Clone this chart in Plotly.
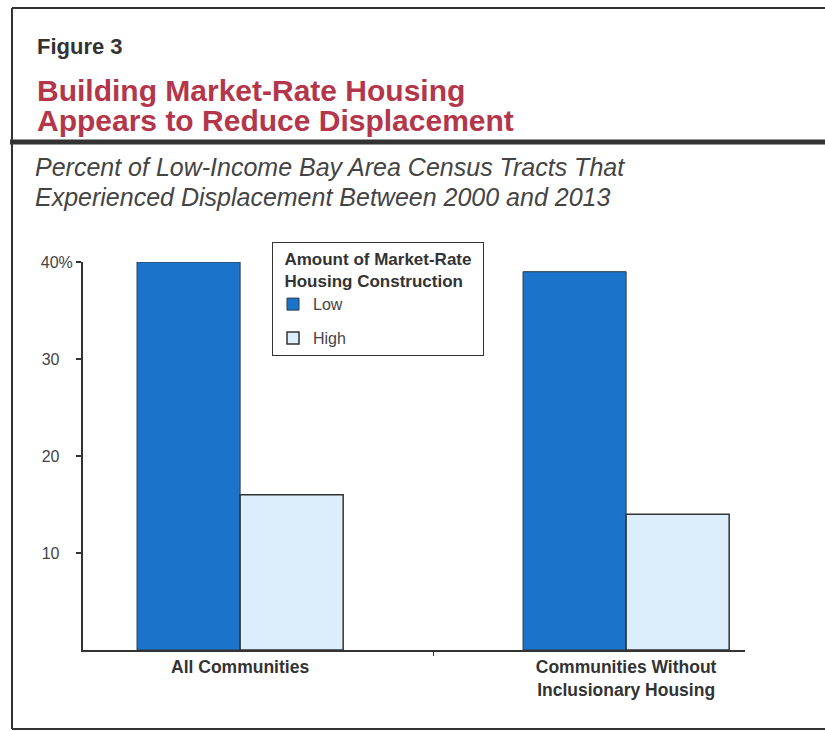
import plotly.graph_objects as go

# Data: percent of low-income Bay Area census tracts that experienced displacement
categories = ["All Communities", "Communities Without<br>Inclusionary Housing"]
series_names = ["Low", "High"]
low_values = [40, 39]
high_values = [16, 14]
y_tick_values = [10, 20, 30, 40]
y_tick_labels = ["10", "20", "30", "40%"]

W, H = 825, 731
PLOT_L, PLOT_R, PLOT_T, PLOT_B = 83, 745, 262, 650

FONT = "Liberation Sans, Arial, Helvetica, sans-serif"
DARK = "#333333"
RED = "#b3364a"
BLUE = "#1b74c9"
LIGHT = "#dcedfb"


def px(x):
    """Pixel x -> paper x."""
    return (x - PLOT_L) / (PLOT_R - PLOT_L)


def py(y):
    """Pixel y (from top) -> paper y."""
    return (PLOT_B - y) / (PLOT_B - PLOT_T)


# pad the shorter labels so numbers line up on the left like the "40%" label
nb = "\u00a0"
tick_text = [t if t.endswith("%") else t + nb * 3 for t in y_tick_labels]

fig = go.Figure()
fig.add_trace(go.Bar(
    name=series_names[0], x=categories, y=low_values,
    marker=dict(color=BLUE, line=dict(color="#2b3a4a", width=1)),
    legendgroup="a",
))
fig.add_trace(go.Bar(
    name=series_names[1], x=categories, y=high_values,
    marker=dict(color=LIGHT, line=dict(color=DARK, width=1.5)),
    legendgroup="b",
))

shapes = []


def hline(y, x0, x1, w):
    shapes.append(dict(type="line", xref="paper", yref="paper",
                       x0=px(x0), x1=px(x1), y0=py(y), y1=py(y),
                       line=dict(color=DARK, width=w)))


def vline(x, y0, y1, w):
    shapes.append(dict(type="line", xref="paper", yref="paper",
                       x0=px(x), x1=px(x), y0=py(y0), y1=py(y1),
                       line=dict(color=DARK, width=w)))


# outer frame and the heavy rule under the heading
hline(8, 12, 825, 2)
hline(729, 12, 825, 2)
vline(12, 8, 729, 2)
hline(142, 10, 825, 5)

annotations = []


def text(x, y, s, size, color, weight="normal", style="normal"):
    annotations.append(dict(
        xref="paper", yref="paper", x=px(x), y=py(y), text=s,
        xanchor="left", yanchor="middle", showarrow=False,
        font=dict(family=FONT, size=size, color=color, weight=weight, style=style),
    ))


text(35, 46, "Figure 3", 22, DARK, weight="bold")
text(35, 90, "Building Market-Rate Housing", 30, RED, weight="bold")
text(35, 121, "Appears to Reduce Displacement", 30, RED, weight="bold")
text(33, 167, "Percent of Low-Income Bay Area Census Tracts That", 25, "#444444", style="italic")
text(33, 197, "Experienced Displacement Between 2000 and 2013", 25, "#444444", style="italic")

pad = nb * 2
legend_title = f"<b>{pad}Amount of Market-Rate{pad}<br>{pad}Housing Construction{pad}</b>"

fig.update_layout(
    width=W, height=H, autosize=False,
    margin=dict(l=PLOT_L, r=W - PLOT_R, t=PLOT_T, b=H - PLOT_B, pad=0),
    paper_bgcolor="white", plot_bgcolor="white",
    barmode="group", bargap=0.466, bargroupgap=0,
    font=dict(family=FONT, color=DARK),
    shapes=shapes, annotations=annotations,
    legend=dict(
        x=px(272), y=py(242), xanchor="left", yanchor="top",
        bgcolor="white", bordercolor=DARK, borderwidth=1,
        title=dict(text=legend_title,
                   font=dict(family=FONT, size=17, color=DARK)),
        font=dict(family=FONT, size=16, color="#444444"),
        traceorder="grouped", tracegroupgap=10,
    ),
)

fig.update_xaxes(
    range=[-0.407, 1.308],
    showline=True, linecolor=DARK, linewidth=2,
    ticks="outside", tickson="boundaries", ticklen=4, tickcolor=DARK,
    tickfont=dict(family=FONT, size=17.5, color=DARK, weight="bold"),
    showgrid=False, zeroline=False,
)
fig.update_yaxes(
    range=[0, 40],
    tickvals=y_tick_values, ticktext=tick_text,
    showline=True, linecolor=DARK, linewidth=2,
    ticks="outside", ticklen=5, tickwidth=1.5, tickcolor=DARK,
    tickfont=dict(family=FONT, size=16, color="#444444"),
    showgrid=False, zeroline=False,
)

fig.write_html("out.html")
